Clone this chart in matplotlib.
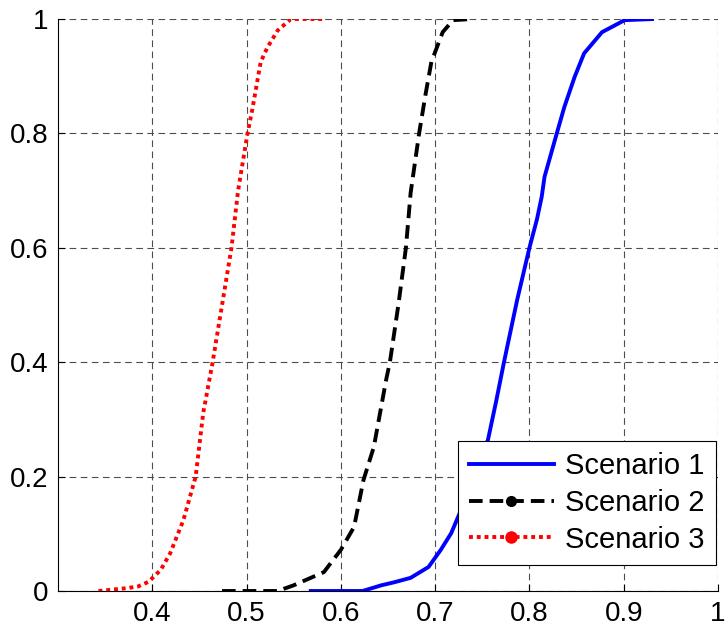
import matplotlib
matplotlib.use("Agg")
import matplotlib.pyplot as plt
from matplotlib.lines import Line2D

plt.rcParams['font.family'] = ['Liberation Sans', 'DejaVu Sans']

# Scenario 1 (blue, solid)
s1_x = [0.566, 0.623, 0.643, 0.656, 0.674, 0.693, 0.706, 0.717, 0.726, 0.737, 0.756,
        0.765, 0.773, 0.787, 0.800, 0.808, 0.813, 0.816, 0.829, 0.837, 0.848, 0.858,
        0.877, 0.901, 0.932]
s1_y = [0.0, 0.0, 0.010, 0.015, 0.023, 0.042, 0.072, 0.101, 0.136, 0.200, 0.264,
        0.334, 0.400, 0.509, 0.600, 0.650, 0.689, 0.724, 0.800, 0.846, 0.899, 0.940,
        0.977, 0.998, 1.0]

# Scenario 2 (black, dashed)
s2_x = [0.474, 0.533, 0.550, 0.582, 0.600, 0.614, 0.624, 0.635, 0.648, 0.652, 0.661,
        0.669, 0.674, 0.683, 0.690, 0.696, 0.708, 0.719, 0.740]
s2_y = [0.0, 0.0, 0.010, 0.033, 0.072, 0.112, 0.194, 0.252, 0.369, 0.400, 0.500,
        0.600, 0.696, 0.800, 0.870, 0.925, 0.977, 0.998, 1.0]

# Scenario 3 (red, dotted)
s3_x = [0.343, 0.373, 0.385, 0.396, 0.409, 0.419, 0.433, 0.446, 0.454, 0.464, 0.474,
        0.484, 0.491, 0.501, 0.506, 0.515, 0.522, 0.533, 0.547, 0.582]
s3_y = [0.0, 0.005, 0.008, 0.016, 0.037, 0.066, 0.124, 0.200, 0.311, 0.400, 0.500,
        0.600, 0.700, 0.800, 0.841, 0.925, 0.950, 0.980, 1.0, 1.0]

labels = ['Scenario 1', 'Scenario 2', 'Scenario 3']
x_ticks = [0.4, 0.5, 0.6, 0.7, 0.8, 0.9, 1.0]
x_tick_labels = ['0.4', '0.5', '0.6', '0.7', '0.8', '0.9', '1']
y_ticks = [0, 0.2, 0.4, 0.6, 0.8, 1.0]
y_tick_labels = ['0', '0.2', '0.4', '0.6', '0.8', '1']

fig = plt.figure(figsize=(7.25, 6.3), dpi=100)
ax = fig.add_axes([58/725, 1-591/630, (718-58)/725, (591-19)/630])

lw = 2.8
ax.plot(s1_x, s1_y, color='#0000ff', lw=lw, ls='-', solid_capstyle='butt', zorder=3)
ax.plot(s2_x, s2_y, color='black', lw=lw, ls=(0, (3.5, 1.8)), zorder=3)
ax.plot(s3_x, s3_y, color='#ff0000', lw=lw, ls=(0, (1, 1)), zorder=3)

ax.set_xlim(0.3, 1.0)
ax.set_ylim(0, 1)
ax.set_xticks(x_ticks)
ax.set_xticklabels(x_tick_labels)
ax.set_yticks(y_ticks)
ax.set_yticklabels(y_tick_labels)
ax.tick_params(direction='in', length=5, width=0.8, labelsize=20, pad=7)
ax.grid(True, color='0.3', ls=(0, (6, 4)), lw=0.8)
ax.spines['top'].set_visible(False)
ax.spines['right'].set_visible(False)
for s in ['left', 'bottom']:
    ax.spines[s].set_color('black')
    ax.spines[s].set_linewidth(0.8)

handles = [
    Line2D([], [], color='#0000ff', lw=lw, ls='-'),
    Line2D([], [], color='black', lw=lw, ls=(0, (3.5, 1.8)), marker='o', markersize=7),
    Line2D([], [], color='#ff0000', lw=lw, ls=(0, (1, 1)), marker='o', markersize=8),
]
leg = ax.legend(handles, labels, loc='lower right', bbox_to_anchor=(0.997, 0.046),
                fontsize=21, frameon=True, fancybox=False, framealpha=1,
                edgecolor='black', handlelength=2.9, handletextpad=0.4,
                borderpad=0.38, labelspacing=0.3, numpoints=1, borderaxespad=0)
leg.get_frame().set_linewidth(0.8)
leg.set_zorder(5)

fig.savefig('out.png', dpi=100)
